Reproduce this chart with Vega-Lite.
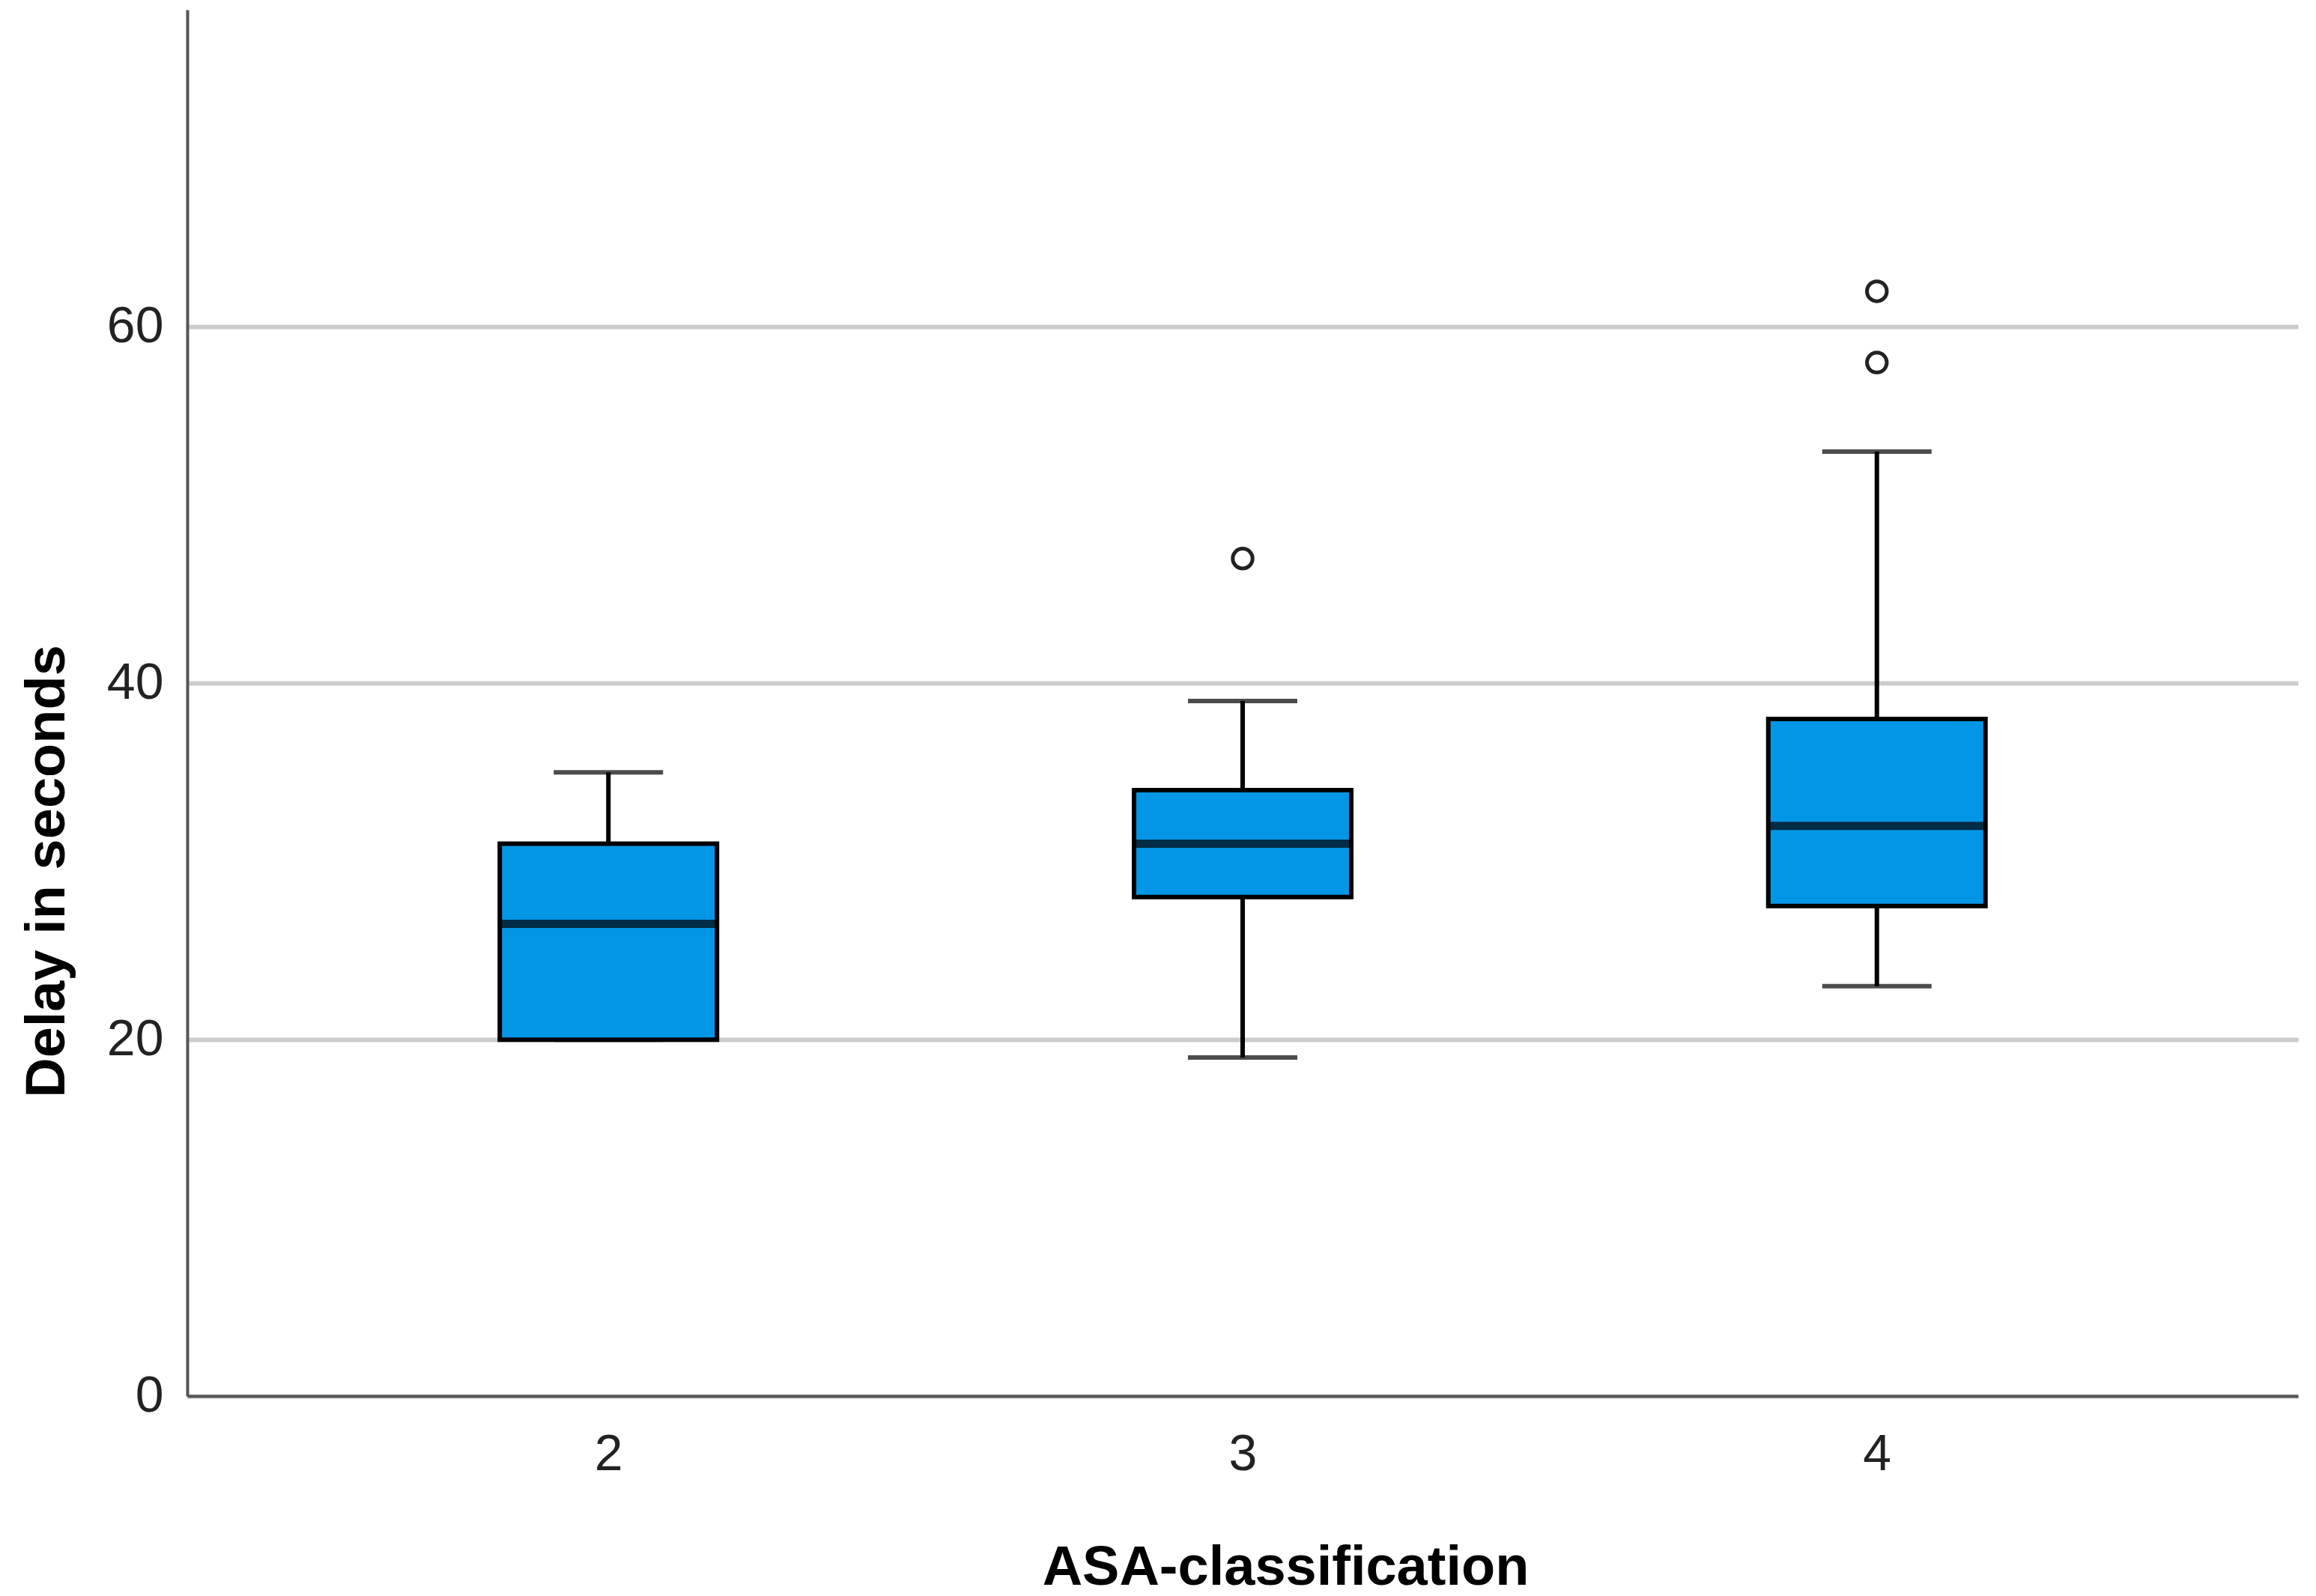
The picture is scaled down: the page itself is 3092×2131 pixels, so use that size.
{
  "$schema": "https://vega.github.io/schema/vega-lite/v6.json",
  "width": 2818,
  "height": 1851,
  "autosize": {"type": "none"},
  "padding": {"left": 250, "top": 13, "right": 24, "bottom": 267},
  "background": "white",
  "config": {
    "view": {"stroke": null},
    "font": "Liberation Sans"
  },
  "datasets": {
    "summary": [
      {"asa": "2", "lower": 20, "q1": 20, "median": 26.5, "q3": 31, "upper": 35},
      {"asa": "3", "lower": 19, "q1": 28, "median": 31, "q3": 34, "upper": 39},
      {"asa": "4", "lower": 23, "q1": 27.5, "median": 32, "q3": 38, "upper": 53}
    ],
    "outliers": [
      {"asa": "3", "delay": 47},
      {"asa": "4", "delay": 58},
      {"asa": "4", "delay": 62}
    ]
  },
  "encoding": {
    "x": {
      "field": "asa",
      "type": "ordinal",
      "scale": {"type": "point", "padding": 0.664, "domain": ["2", "3", "4"]},
      "axis": {
        "title": "ASA-classification",
        "labelAngle": 0,
        "labelFontSize": 68,
        "labelColor": "#222222",
        "labelPadding": 44,
        "ticks": false,
        "grid": false,
        "domainColor": "#555555",
        "domainWidth": 4,
        "titleFontSize": 74,
        "titleFontWeight": "bold",
        "titleColor": "#000000",
        "titleBaseline": "alphabetic",
        "titleX": 1466,
        "titleY": 251
      }
    }
  },
  "layer": [
    {
      "data": {"name": "summary"},
      "mark": {"type": "rule", "color": "#000000", "strokeWidth": 6},
      "encoding": {
        "y": {
          "field": "lower",
          "type": "quantitative",
          "scale": {"domain": [0, 77.8], "nice": false, "zero": true},
          "axis": {
            "title": "Delay in seconds",
            "values": [0, 20, 40, 60],
            "labelFontSize": 68,
            "labelColor": "#222222",
            "labelPadding": 32,
            "ticks": false,
            "grid": true,
            "gridColor": "#cccccc",
            "gridWidth": 6,
            "domainColor": "#555555",
            "domainWidth": 4,
            "titleFontSize": 74,
            "titleFontWeight": "bold",
            "titleColor": "#000000",
            "titleAngle": -90,
            "titleAlign": "center",
            "titleBaseline": "alphabetic",
            "titleX": -165,
            "titleY": 1150
          }
        },
        "y2": {"field": "upper"}
      }
    },
    {
      "data": {"name": "summary"},
      "mark": {"type": "tick", "color": "#000000", "size": 146, "thickness": 6, "orient": "horizontal"},
      "encoding": {"y": {"field": "upper", "type": "quantitative"}}
    },
    {
      "data": {"name": "summary"},
      "mark": {"type": "tick", "color": "#000000", "size": 146, "thickness": 6, "orient": "horizontal"},
      "encoding": {"y": {"field": "lower", "type": "quantitative"}}
    },
    {
      "data": {"name": "summary"},
      "mark": {"type": "bar", "fill": "#0396e6", "stroke": "#000000", "strokeWidth": 6, "size": 290},
      "encoding": {
        "y": {"field": "q1", "type": "quantitative"},
        "y2": {"field": "q3"}
      }
    },
    {
      "data": {"name": "summary"},
      "mark": {"type": "tick", "color": "#000000", "size": 290, "thickness": 11, "orient": "horizontal"},
      "encoding": {"y": {"field": "median", "type": "quantitative"}}
    },
    {
      "data": {"name": "outliers"},
      "mark": {"type": "point", "shape": "circle", "filled": false, "stroke": "#222222", "strokeWidth": 5, "size": 700, "opacity": 1},
      "encoding": {"y": {"field": "delay", "type": "quantitative"}}
    }
  ]
}
